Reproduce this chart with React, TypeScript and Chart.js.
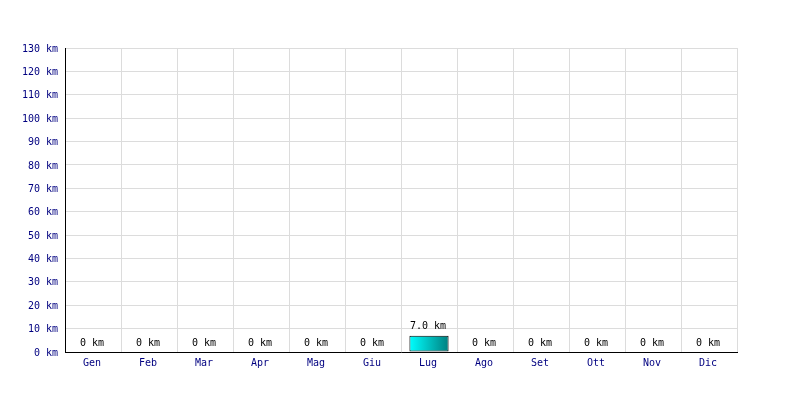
import React, { useEffect, useRef } from "react";
import { Chart, registerables } from "chart.js";

Chart.register(...registerables);

const months = ["Gen", "Feb", "Mar", "Apr", "Mag", "Giu", "Lug", "Ago", "Set", "Ott", "Nov", "Dic"];
const distances = [0, 0, 0, 0, 0, 0, 7.0, 0, 0, 0, 0, 0];
const valueLabels = ["0 km", "0 km", "0 km", "0 km", "0 km", "0 km", "7.0 km", "0 km", "0 km", "0 km", "0 km", "0 km"];
const yMax = 130;
const yStep = 10;

const FONT = "'DejaVu Sans Mono', monospace";

const labelPlugin = {
  id: "valueLabels",
  afterDatasetsDraw(chart: any) {
    const ctx = chart.ctx;
    const meta = chart.getDatasetMeta(0);
    ctx.save();
    ctx.font = `10px ${FONT}`;
    ctx.fillStyle = "#000000";
    ctx.textAlign = "center";
    ctx.textBaseline = "bottom";
    meta.data.forEach((bar: any, i: number) => {
      ctx.fillText(valueLabels[i], bar.x - 1, bar.y - 4);
    });
    ctx.restore();
  },
};

export default function App() {
  const ref = useRef<HTMLCanvasElement | null>(null);
  useEffect(() => {
    document.body.style.margin = "0";
    if (!ref.current) return;
    const chart = new Chart(ref.current, {
      type: "bar",
      data: {
        labels: months,
        datasets: [
          {
            data: distances,
            barPercentage: 0.7,
            categoryPercentage: 1,
            borderColor: "#000000",
            borderWidth: 1,
            borderSkipped: false,
            backgroundColor: (c: any) => {
              const chart = c.chart;
              const xs = chart.scales && chart.scales.x;
              if (!xs || !chart.chartArea || c.dataIndex === undefined) return "#00ffff";
              const cx = xs.getPixelForValue(c.dataIndex);
              const w = (xs.width / months.length) * 0.7;
              const g = chart.ctx.createLinearGradient(cx - w / 2, 0, cx + w / 2, 0);
              g.addColorStop(0, "#00ffff");
              g.addColorStop(1, "#008080");
              return g;
            },
          },
        ],
      },
      options: {
        responsive: false,
        animation: false,
        layout: { padding: { left: 0, right: 63, top: 48, bottom: 0 } },
        plugins: { legend: { display: false }, tooltip: { enabled: false } },
        scales: {
          x: {
            offset: true,
            grid: { color: "#dcdcdc", offset: true, drawTicks: false },
            border: { color: "#000000", width: 1 },
            ticks: { color: "#000080", font: { family: FONT, size: 10 }, padding: 5, labelOffset: -1 },
            afterFit: (s: any) => {
              s.height = 48;
            },
          },
          y: {
            min: 0,
            max: yMax,
            grid: { color: "#dcdcdc", drawTicks: false },
            border: { color: "#000000", width: 1 },
            ticks: {
              stepSize: yStep,
              color: "#000080",
              font: { family: FONT, size: 10 },
              padding: 7,
              labelOffset: 1,
              callback: (v: any) => `${v} km`,
            },
            afterFit: (s: any) => {
              s.width = 65;
            },
          },
        },
      },
      plugins: [labelPlugin],
    });
    return () => chart.destroy();
  }, []);
  return (
    <div style={{ width: 800, height: 400, background: "#ffffff" }}>
      <canvas ref={ref} width={800} height={400} />
    </div>
  );
}
